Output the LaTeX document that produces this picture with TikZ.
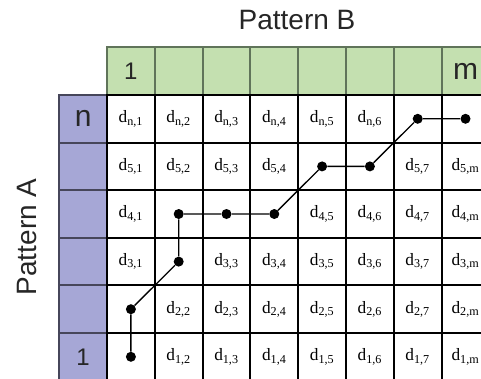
\documentclass[tikz,border=0pt]{standalone}
\usepackage{fontspec}
\setmainfont{Liberation Serif}
\newfontfamily\arialfont{Liberation Sans}

\definecolor{hdrgreen}{RGB}{196,224,176}
\definecolor{hdrpurple}{RGB}{166,167,214}
\definecolor{greenedge}{RGB}{96,116,90}
\definecolor{purpleedge}{RGB}{70,70,90}

\begin{document}
\begin{tikzpicture}[x=0.75pt,y=-0.75pt,
  cellbox/.style={draw=black,line width=1.4pt,fill=white,inner sep=0pt,
    minimum width=35.85pt,minimum height=35.7pt,font=\fontsize{13}{15}\selectfont},
  greenbox/.style={cellbox,draw=greenedge,fill=hdrgreen},
  purplebox/.style={cellbox,draw=purpleedge,fill=hdrpurple},
  hdrlabel/.style={font=\arialfont\fontsize{18}{20}\selectfont,text=black!85,inner sep=0pt},
  letterlabel/.style={font=\arialfont\fontsize{22.5}{24}\selectfont,text=black!85,inner sep=0pt},
  titlelabel/.style={font=\arialfont\fontsize{21}{24}\selectfont,text=black!85,inner sep=0pt},
  pathdot/.style={circle,fill=black,inner sep=0pt,minimum size=7.5pt},
  pathline/.style={line width=1pt,black}]

\useasboundingbox (0,0) rectangle (481,378);
\clip (0,0) rectangle (481,378);

% header row of pattern B
\foreach \c in {1,...,8}
  \node[greenbox] (hb-\c) at ({107+(\c-0.5)*47.8},{95-23.8}) {};
% header column of pattern A
\foreach \r in {1,...,6}
  \node[purplebox] (ha-\r) at ({107-23.9},{95+(\r-0.5)*47.6}) {};

% distance matrix cells (row 1 = n at the top, row 6 = 1 at the bottom)
\foreach \r in {1,...,6}
  \foreach \c in {1,...,8}
    \node[cellbox] (cell-\r-\c) at ({107+(\c-0.5)*47.8},{95+(\r-0.5)*47.6}) {};

% cell texts
\foreach \c/\t in {1/1,2/2,3/3,4/4,5/5,6/6}
  \node (t-1-\c) at (cell-1-\c) {\fontsize{13}{15}\selectfont d\textsubscript{n,\t}};
\foreach \c/\t in {1/1,2/2,3/3,4/4,7/7,8/m}
  \node (t-2-\c) at (cell-2-\c) {\fontsize{13}{15}\selectfont d\textsubscript{5,\t}};
\foreach \c/\t in {1/1,5/5,6/6,7/7,8/m}
  \node (t-3-\c) at (cell-3-\c) {\fontsize{13}{15}\selectfont d\textsubscript{4,\t}};
\foreach \c/\t in {1/1,3/3,4/4,5/5,6/6,7/7,8/m}
  \node (t-4-\c) at (cell-4-\c) {\fontsize{13}{15}\selectfont d\textsubscript{3,\t}};
\foreach \c/\t in {2/2,3/3,4/4,5/5,6/6,7/7,8/m}
  \node (t-5-\c) at (cell-5-\c) {\fontsize{13}{15}\selectfont d\textsubscript{2,\t}};
\foreach \c/\t in {2/2,3/3,4/4,5/5,6/6,7/7,8/m}
  \node (t-6-\c) at (cell-6-\c) {\fontsize{13}{15}\selectfont d\textsubscript{1,\t}};

% header labels
\node[hdrlabel] (lb-1) at (hb-1) {1};
\node[letterlabel] (lb-m) at (hb-8) {m};
\node[letterlabel] (la-n) at (ha-1) {n};
\node[hdrlabel] (la-1) at (ha-6) {1};

% axis titles
\node[titlelabel] (titleB) at (297,20) {Pattern B};
\node[titlelabel,rotate=90] (titleA) at (27,237) {Pattern A};

% warping path
\node[pathdot] (p1) at (cell-6-1) {};
\node[pathdot] (p2) at (cell-5-1) {};
\node[pathdot] (p3) at (cell-4-2) {};
\node[pathdot] (p4) at (cell-3-2) {};
\node[pathdot] (p5) at (cell-3-3) {};
\node[pathdot] (p6) at (cell-3-4) {};
\node[pathdot] (p7) at (cell-2-5) {};
\node[pathdot] (p8) at (cell-2-6) {};
\node[pathdot] (p9) at (cell-1-7) {};
\node[pathdot] (p10) at (cell-1-8) {};
\draw[pathline] (p1) -- (p2) -- (p3) -- (p4) -- (p5) -- (p6) -- (p7) -- (p8) -- (p9) -- (p10);
\end{tikzpicture}
\end{document}
